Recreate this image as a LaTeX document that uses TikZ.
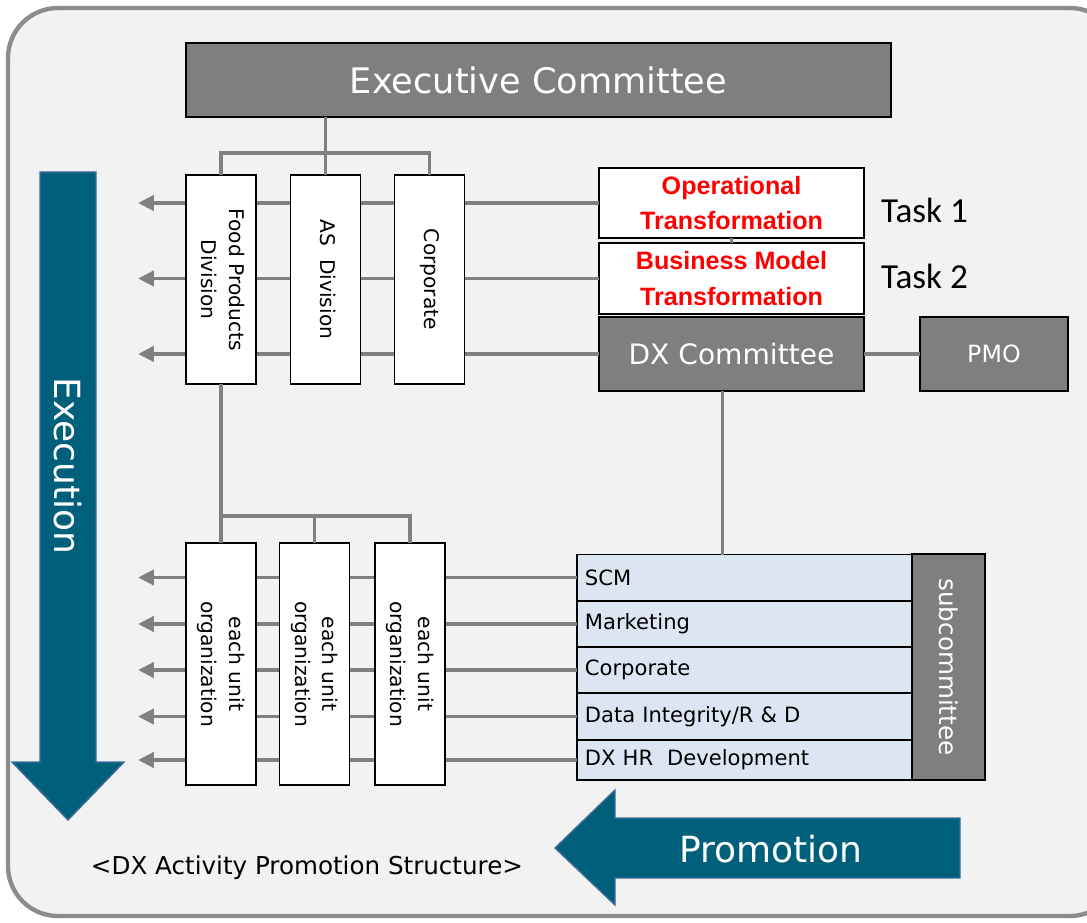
\documentclass[tikz,border=0pt]{standalone}
\usepackage{graphicx}
\usepackage{fontspec}
\setmainfont{DejaVu Sans}
\newfontfamily\redfont{Liberation Sans}
\newfontfamily\taskfont{Carlito}
\usepackage{tikz}
\usetikzlibrary{arrows.meta, positioning}
\definecolor{panelbg}{HTML}{F2F2F2}
\definecolor{boxgray}{HTML}{7F7F7F}
\definecolor{linegray}{HTML}{808080}
\definecolor{subblue}{HTML}{DCE6F2}
\definecolor{flowteal}{HTML}{005F7A}
\definecolor{flowedge}{HTML}{3F6E9A}
\definecolor{taskred}{HTML}{FF0000}
\tikzset{
    org/.style={font=\fontsize{11.5}{15.5}\selectfont},
    panel/.style={fill=panelbg, draw=black!45, line width=2.5pt, rounded corners=1cm},
    committee box/.style={draw, fill=boxgray, text=white, inner sep=0pt,
        outer sep=0pt, line width=0.7pt},
    unit box/.style={draw, fill=white, minimum width=1.4cm, inner sep=0pt,
        outer sep=0pt, line width=0.7pt},
    task box/.style={draw, fill=white, text=taskred, align=center,
        minimum width=5.3cm, inner sep=0pt, outer sep=0pt, line width=0.7pt,
        font=\redfont\bfseries\fontsize{14.3}{20}\selectfont},
    sub row/.style={draw, fill=subblue, minimum width=6.7cm,
        minimum height=0.92cm, text width=6.7cm-9pt, align=left,
        inner xsep=4.5pt, inner ysep=0pt, outer sep=0pt, line width=0.7pt,
        font=\fontsize{12}{14}\selectfont},
    org line/.style={draw=linegray, line width=2.2pt},
    org arrow/.style={org line, -{Triangle[length=9pt,width=8.5pt]}},
    flow arrow/.style={fill=flowteal, draw=flowedge, line width=0.8pt},
    flow label/.style={text=white, font=\fontsize{20.5}{24}\selectfont},
}
\newcommand{\vtext}[1]{\rotatebox{-90}{\begin{tabular}{@{}c@{}}#1\end{tabular}}}

\begin{document}
\begin{tikzpicture}[x=0.02cm, y=-0.02cm, org]
    \useasboundingbox (0,0) rectangle (1087,922);
    \draw[panel] (8,8) rectangle (1120,916);

    % big flow arrows
    \draw[flow arrow] (40,172) -- (96,172) -- (96,762) -- (124,762)
        -- (68,820) -- (12,762) -- (40,762) -- cycle;
    \node[flow label, rotate=-90] (execution) at (68,466) {Execution};
    \draw[flow arrow] (960,818) -- (615,818) -- (615,790) -- (555,848)
        -- (615,905) -- (615,878) -- (960,878) -- cycle;
    \node[flow label] (promotion) at (771,849) {Promotion};

    \coordinate (tipline) at (138,0);
    \coordinate (bus1) at (0,153);
    \coordinate (bus2) at (0,516);

    % committees
    \node[committee box, minimum width=14.1cm, minimum height=1.48cm,
        font=\fontsize{20}{24}\selectfont] (exec) at (538.5,80) {Executive Committee};
    \node[task box, minimum height=1.4cm] (optrans) at (731.5,203)
        {Operational\\Transformation};
    \node[task box, minimum height=1.42cm, below=0.1cm of optrans] (bmtrans)
        {Business Model\\Transformation};
    \node[committee box, minimum width=5.3cm, minimum height=1.48cm,
        below=0.06cm of bmtrans, font=\fontsize{16}{20}\selectfont] (dx) {DX Committee};
    \node[committee box, minimum width=2.96cm, minimum height=1.48cm,
        right=1.12cm of dx, font=\fontsize{13.5}{16}\selectfont] (pmo) {PMO};
    \node[anchor=west, font=\taskfont\fontsize{20}{24}\selectfont] (task1) at (875,210) {Task 1};
    \node[anchor=west, font=\taskfont\fontsize{20}{24}\selectfont] (task2) at (875,276) {Task 2};

    % subcommittee
    \node[sub row] (scm) at (744.5,577.5) {SCM};
    \node[sub row] (mkt) at (744.5,624) {Marketing};
    \node[sub row] (crp) at (744.5,670) {Corporate};
    \node[sub row] (dat) at (744.5,716.5) {Data Integrity/R \& D};
    \node[sub row, minimum height=0.8cm] (hr) at (744.5,760) {DX HR\ \ Development};
    \node[committee box, minimum width=1.46cm, minimum height=4.52cm,
        font=\fontsize{14}{16}\selectfont] (subcom) at (948.5,667)
        {\rotatebox{-90}{subcommittee}};

    % lines run behind the division boxes
    \foreach \r in {optrans, bmtrans, dx, scm, mkt, crp, dat, hr}
        \draw[org arrow] (\r.west) -- (\r.west -| tipline);
    \draw[org line] (optrans.south) -- (bmtrans.north);
    \draw[org line] (dx) -- (pmo);
    \draw[org line] ([xshift=-0.18cm]dx.south) -- ([xshift=-0.18cm]dx.south |- scm.north);

    % divisions
    \node[unit box, minimum height=4.18cm] (food) at (221,279.5)
        {\vtext{Food Products\\Division}};
    \node[unit box, minimum height=4.18cm] (asdiv) at (325.5,279.5)
        {\vtext{AS\ \ Division}};
    \node[unit box, minimum height=4.18cm] (corp) at (429.5,279.5)
        {\vtext{Corporate}};
    \draw[org line] (exec.south -| asdiv) -- (asdiv.north);
    \draw[org line] (food.north) -- (food.north |- bus1) -| (corp.north);

    % unit organizations
    \node[unit box, minimum height=4.84cm] (unitA) at (221,664)
        {\vtext{each unit\\organization}};
    \node[unit box, minimum height=4.84cm] (unitB) at (314.5,664)
        {\vtext{each unit\\organization}};
    \node[unit box, minimum height=4.84cm] (unitC) at (410,664)
        {\vtext{each unit\\organization}};
    \draw[org line] (food.south) -- (unitA.north);
    \draw[org line] (food.south |- bus2) -| (unitC.north);
    \draw[org line] (bus2 -| unitB) -- (unitB.north);

    \node[font=\fontsize{14}{16}\selectfont] (caption) at (307,868)
        {<DX Activity Promotion Structure>};
\end{tikzpicture}
\end{document}
